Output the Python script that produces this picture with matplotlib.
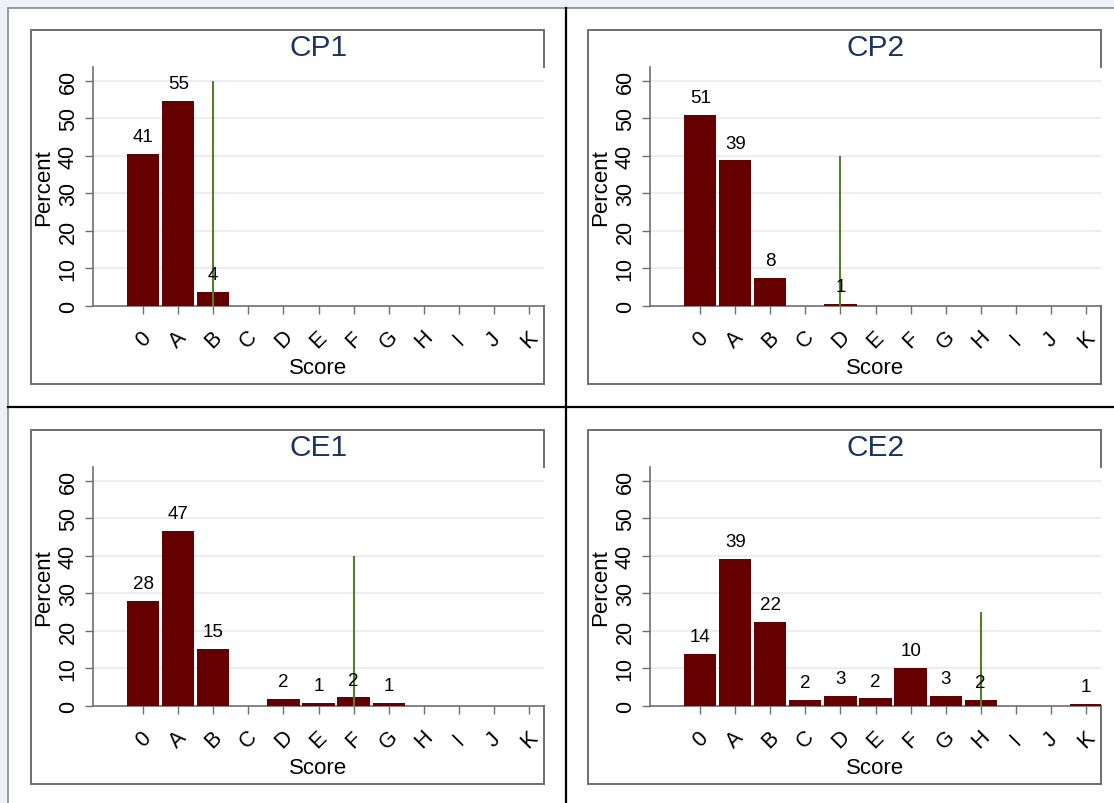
import matplotlib
matplotlib.use("Agg")
import matplotlib.pyplot as plt
from matplotlib.patches import Rectangle

plt.rcParams['font.family'] = ['Liberation Sans', 'DejaVu Sans']

# data
scores = ['0', 'A', 'B', 'C', 'D', 'E', 'F', 'G', 'H', 'I', 'J', 'K']
titles = ['CP1', 'CP2', 'CE1', 'CE2']
cp1 = [40.6, 54.6, 3.7, 0, 0, 0, 0, 0, 0, 0, 0, 0]
cp2 = [51.0, 38.8, 7.5, 0, 0.6, 0, 0, 0, 0, 0, 0, 0]
ce1 = [28.0, 46.7, 15.2, 0, 1.9, 0.8, 2.3, 0.8, 0, 0, 0, 0]
ce2 = [13.9, 39.3, 22.3, 1.6, 2.7, 2.0, 10.1, 2.6, 1.6, 0, 0, 0.6]
ref_pos = [2, 4, 6, 8]        # index of the green marker line
ref_height = [60, 40, 40, 25]
yticks = [0, 10, 20, 30, 40, 50, 60]

series = [cp1, cp2, ce1, ce2]

W, H = 1114, 804
BAR = '#640000'
GREEN = '#557f2a'
NAVY = '#1c3461'
AXC = '#6e6e6e'


def fr(x0, y0, x1, y1):
    # pixel box (top-left origin) -> figure fraction
    return [x0 / W, 1 - y1 / H, (x1 - x0) / W, (y1 - y0) / H]


fig = plt.figure(figsize=(W / 100, H / 100), dpi=100)
fig.patch.set_facecolor('#eef2f8')

# background layer in pixel coordinates
bg = fig.add_axes([0, 0, 1, 1], zorder=0)
bg.set_xlim(0, W)
bg.set_ylim(H, 0)
bg.axis('off')
bg.add_patch(Rectangle((8, 9), W + 30, H + 30, facecolor='white',
                       edgecolor='#8a8a8a', lw=1.2))
bg.plot([566, 566], [9, H + 5], color='black', lw=1.6)
bg.plot([8, W + 5], [408, 408], color='black', lw=1.6)

box_left = [31, 588]
box_top = [31, 431]
box_w, box_h = 513, 354

for i, vals in enumerate(series):
    bl = box_left[i % 2]
    bt = box_top[i // 2]
    br, bb = bl + box_w, bt + box_h
    al, ar, at, ab = bl + 62, br, bt + 37, bt + 276

    # panel frame (the plot region hides part of its right edge)
    bg.plot([br, br, bl, bl, br, br], [at, bt, bt, bb, bb, ab],
            color=AXC, lw=1.4, solid_joinstyle='miter')

    ax = fig.add_axes(fr(al, at, ar, ab), zorder=2)
    ax.set_facecolor('none')
    x = list(range(len(scores)))
    ax.bar(x, vals, width=0.92, color=BAR, zorder=3)
    for xi, v in zip(x, vals):
        if v > 0:
            ax.annotate(f'{v:.0f}', (xi, v), xytext=(0, 12.5),
                        textcoords='offset points', ha='center', va='center',
                        fontsize=13.5, color='black', zorder=5)
    ax.vlines(ref_pos[i], 0, ref_height[i], color=GREEN, lw=1.5, zorder=4)

    for t in yticks[1:]:
        ax.axhline(t, color='#e9eef5', lw=1.5, zorder=1)

    ax.set_xlim(-1.43, 11.43)
    ax.set_ylim(0, 63.7)
    ax.set_yticks(yticks)
    ax.set_yticklabels([str(t) for t in yticks], rotation=90,
                       ha='center', va='center', fontsize=15.5)
    ax.set_xticks(x)
    ax.set_xticklabels(scores, rotation=45, ha='center', va='center',
                       fontsize=15.5)
    ax.tick_params(axis='y', length=5.8, width=1, color=AXC, pad=12)
    ax.tick_params(axis='x', length=5.8, width=1, color=AXC, pad=18)
    for s in ['top', 'right']:
        ax.spines[s].set_visible(False)
    for s in ['left', 'bottom']:
        ax.spines[s].set_color(AXC)
        ax.spines[s].set_linewidth(1.2)

    hgt = ab - at
    wid = ar - al
    ax.set_ylabel('Percent', fontsize=16, va='center')
    ax.yaxis.set_label_coords(-49 / wid, 0.5)
    ax.set_xlabel('Score', fontsize=16, va='center')
    ax.xaxis.set_label_coords(0.5, -62 / hgt)
    ax.text(0.5, 1 + 20 / hgt, titles[i], transform=ax.transAxes,
            ha='center', va='center', fontsize=21.5, color=NAVY)

fig.savefig('out.png', dpi=100, facecolor=fig.get_facecolor())
